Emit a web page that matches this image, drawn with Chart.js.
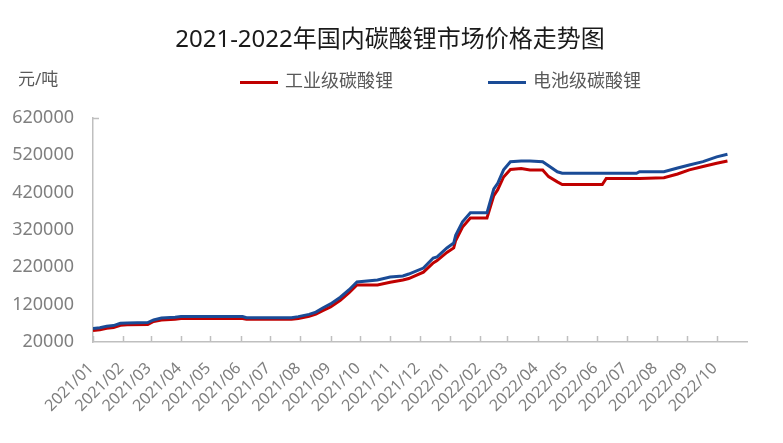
<!DOCTYPE html>
<html>
<head>
<meta charset="utf-8">
<script src="https://cdn.jsdelivr.net/npm/chart.js@4/dist/chart.umd.min.js"></script>
<style>
html, body { margin: 0; padding: 0; background: #fff; }
</style>
</head>
<body>
<canvas id="priceChart" width="783" height="443"></canvas>
<script>
const titleText = '2021-2022年国内碳酸锂市场价格走势图';
const unitText = '元/吨';
const seriesNames = ['工业级碳酸锂', '电池级碳酸锂'];

const dates = [
    '2021-01-01', '2021-01-08', '2021-01-15', '2021-01-22', '2021-01-29', '2021-02-05', '2021-02-26',
    '2021-03-04', '2021-03-12', '2021-03-26', '2021-04-01', '2021-06-03', '2021-06-07', '2021-07-23',
    '2021-07-30', '2021-08-10', '2021-08-17', '2021-08-24', '2021-09-01', '2021-09-11', '2021-09-20',
    '2021-09-28', '2021-10-19', '2021-11-01', '2021-11-14', '2021-11-20', '2021-12-05', '2021-12-15',
    '2021-12-19', '2021-12-29', '2022-01-05', '2022-01-07', '2022-01-14', '2022-01-22', '2022-02-08',
    '2022-02-15', '2022-02-19', '2022-02-25', '2022-03-04', '2022-03-15', '2022-03-24', '2022-04-06',
    '2022-04-12', '2022-04-21', '2022-04-26', '2022-06-06', '2022-06-10', '2022-07-11', '2022-07-14',
    '2022-08-08', '2022-08-22', '2022-09-03', '2022-09-17', '2022-10-01', '2022-10-12'
];
const industrial = [
    51000, 53000, 57000, 59000, 65000, 66000, 67000,
    75000, 79000, 81000, 83000, 83000, 81000, 81000,
    83000, 89000, 95000, 104000, 114000, 132000, 152000,
    173000, 173000, 180000, 186000, 190000, 207000, 232000,
    238000, 260000, 272000, 292000, 328000, 352000, 352000,
    412000, 428000, 462000, 482000, 485000, 481000, 481000,
    463000, 449000, 442000, 442000, 458000, 458000, 458000,
    460000, 470000, 481000, 490000, 499000, 505000
];
const battery = [
    56000, 58000, 62000, 64000, 70000, 71000, 72000,
    79000, 84000, 86000, 88000, 88000, 85000, 85000,
    88000, 94000, 100000, 111000, 122000, 140000, 160000,
    181000, 186000, 194000, 197000, 202000, 218000, 245000,
    248000, 272000, 285000, 306000, 342000, 366000, 366000,
    430000, 445000, 481000, 503000, 505000, 505000, 503000,
    492000, 476000, 472000, 472000, 472000, 472000, 476000,
    476000, 486000, 494000, 503000, 516000, 523000
];
const monthLabels = [
    '2021/01', '2021/02', '2021/03', '2021/04', '2021/05', '2021/06', '2021/07', '2021/08',
    '2021/09', '2021/10', '2021/11', '2021/12', '2022/01', '2022/02', '2022/03', '2022/04',
    '2022/05', '2022/06', '2022/07', '2022/08', '2022/09', '2022/10'
];
const yMin = 20000, yMax = 620000, yStep = 100000;

const origin = Date.UTC(2021, 0, 1);
function dayIndex(y, m, d) {
    return (Date.UTC(y, m - 1, d) - origin) / 86400000;
}
function dateToDay(s) {
    const p = s.split('-').map(Number);
    return dayIndex(p[0], p[1], p[2]);
}
const monthTicks = monthLabels.map(l => {
    const p = l.split('/').map(Number);
    return dayIndex(p[0], p[1], 1);
});
const xEnd = dayIndex(2022, 11, 1);

const toPoints = vals => dates.map((d, i) => ({ x: dateToDay(d), y: vals[i] }));

const fontLatin = '"Noto Sans", "Noto Sans CJK SC", sans-serif';
const axisColor = '#bfbfbf';
const textGrey = '#7f7f7f';
const colors = ['#c00000', '#1a4b96'];

const decor = {
    id: 'decor',
    afterDraw(chart) {
        const c = chart.ctx;
        const area = chart.chartArea;
        const xs = chart.scales.x;
        c.save();
        // tick marks pointing into the plot
        c.strokeStyle = axisColor;
        c.lineWidth = 1.5;
        c.beginPath();
        monthTicks.forEach(v => {
            const px = Math.round(xs.getPixelForValue(v)) + 0.5;
            c.moveTo(px, area.bottom);
            c.lineTo(px, area.bottom - 6);
        });
        c.moveTo(area.left, area.top + 0.5);
        c.lineTo(area.left + 6, area.top + 0.5);
        c.stroke();

        c.fillStyle = '#1a1a1a';
        c.font = '24px ' + fontLatin;
        c.textAlign = 'center';
        c.textBaseline = 'middle';
        c.fillText(titleText, 390, 40);

        c.fillStyle = '#595959';
        c.font = '17px ' + fontLatin;
        c.textAlign = 'left';
        c.fillText(unitText, 18, 80);

        c.font = '18px ' + fontLatin;
        const legendX = [240, 488];
        seriesNames.forEach((name, i) => {
            c.fillStyle = colors[i];
            c.fillRect(legendX[i], 81, 38, 3);
            c.fillStyle = '#595959';
            c.fillText(name, legendX[i] + 45, 82);
        });
        c.restore();
    }
};

new Chart(document.getElementById('priceChart').getContext('2d'), {
    type: 'line',
    data: {
        datasets: [{
            label: seriesNames[0],
            data: toPoints(industrial),
            borderColor: colors[0],
            backgroundColor: colors[0],
            borderWidth: 3,
            pointRadius: 0,
            tension: 0,
            order: 1
        }, {
            label: seriesNames[1],
            data: toPoints(battery),
            borderColor: colors[1],
            backgroundColor: colors[1],
            borderWidth: 3,
            pointRadius: 0,
            tension: 0,
            order: 0
        }]
    },
    options: {
        responsive: false,
        animation: false,
        layout: { padding: { top: 118, right: 36, left: 0, bottom: 0 } },
        plugins: {
            legend: { display: false },
            title: { display: false },
            tooltip: { enabled: false }
        },
        scales: {
            x: {
                type: 'linear',
                min: 0,
                max: xEnd,
                grid: { display: false, drawTicks: false },
                border: { display: true, color: axisColor, width: 1.5 },
                afterBuildTicks: scale => {
                    scale.ticks = monthTicks.map(v => ({ value: v }));
                },
                afterFit: scale => { scale.height = 101; },
                ticks: {
                    autoSkip: false,
                    minRotation: 45,
                    maxRotation: 45,
                    padding: 17,
                    labelOffset: -2,
                    color: textGrey,
                    font: { family: fontLatin, size: 16 },
                    callback: value => {
                        const i = monthTicks.indexOf(value);
                        return i >= 0 ? monthLabels[i] : '';
                    }
                }
            },
            y: {
                min: yMin,
                max: yMax,
                grid: { display: false, drawTicks: false },
                border: { display: true, color: axisColor, width: 1.5 },
                afterFit: scale => { scale.width = 93; },
                ticks: {
                    stepSize: yStep,
                    padding: 19,
                    color: textGrey,
                    font: { family: fontLatin, size: 18 },
                    callback: value => String(value)
                }
            }
        }
    },
    plugins: [decor]
});
</script>
</body>
</html>
